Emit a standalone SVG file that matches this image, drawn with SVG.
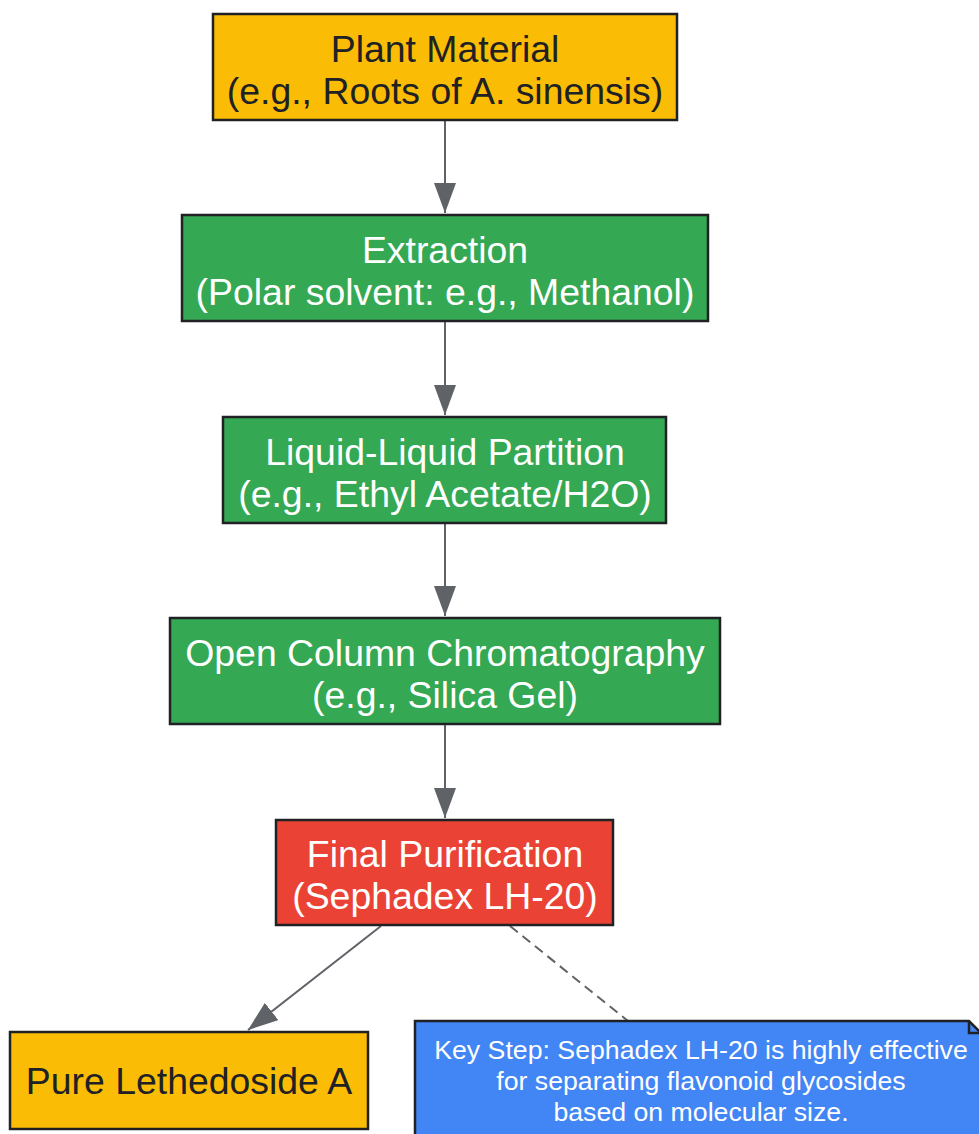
<svg xmlns="http://www.w3.org/2000/svg" width="979" height="1134" viewBox="0 0 979 1134">
<defs>
<marker id="ah" markerWidth="30" markerHeight="22" refX="30" refY="11" orient="auto" markerUnits="userSpaceOnUse">
<path d="M0,0 L30,11 L0,22 Z" fill="#5F6368"/>
</marker>
<style>
.box{stroke:#202124;stroke-width:2.5}
.y{fill:#FBBC05}
.g{fill:#34A853}
.r{fill:#EA4335}
.b{fill:#4285F4}
.t{font-family:"Liberation Sans",Arial,sans-serif;font-size:37.4px;text-anchor:middle}
.dk{fill:#202124}
.wt{fill:#FFFFFF}
.nt{font-family:"Liberation Sans",Arial,sans-serif;font-size:26.7px;text-anchor:middle;fill:#FFFFFF}
.e{stroke:#5F6368;stroke-width:2;fill:none}
</style>
</defs>
<rect width="979" height="1134" fill="#FFFFFF"/>
<g id="connectors">
<line class="e" x1="445" y1="120" x2="445" y2="213" marker-end="url(#ah)"/>
<line class="e" x1="445" y1="321" x2="445" y2="415" marker-end="url(#ah)"/>
<line class="e" x1="445" y1="523" x2="445" y2="616" marker-end="url(#ah)"/>
<line class="e" x1="445" y1="724" x2="445" y2="818" marker-end="url(#ah)"/>
<line class="e" x1="381" y1="926" x2="248" y2="1030" marker-end="url(#ah)"/>
<line class="e" x1="510" y1="926" x2="628" y2="1021" stroke-dasharray="10,6"/>
</g>
<g id="plant">
<rect class="box y" x="213" y="14" width="464" height="106"/>
<text class="t dk" x="445" y="62">Plant Material</text>
<text class="t dk" x="445" y="104">(e.g., Roots of A. sinensis)</text>
</g>
<g id="extraction">
<rect class="box g" x="182" y="215" width="526" height="106"/>
<text class="t wt" x="445" y="263">Extraction</text>
<text class="t wt" x="445" y="305">(Polar solvent: e.g., Methanol)</text>
</g>
<g id="partition">
<rect class="box g" x="223" y="417" width="443" height="106"/>
<text class="t wt" x="445" y="465">Liquid-Liquid Partition</text>
<text class="t wt" x="445" y="507">(e.g., Ethyl Acetate/H2O)</text>
</g>
<g id="column">
<rect class="box g" x="170" y="618" width="550" height="106"/>
<text class="t wt" x="445" y="666">Open Column Chromatography</text>
<text class="t wt" x="445" y="708">(e.g., Silica Gel)</text>
</g>
<g id="final">
<rect class="box r" x="276" y="820" width="337" height="105"/>
<text class="t wt" x="445" y="867">Final Purification</text>
<text class="t wt" x="445" y="909">(Sephadex LH-20)</text>
</g>
<g id="pure">
<rect class="box y" x="10" y="1032" width="358" height="97"/>
<text class="t dk" x="189" y="1094">Pure Lethedoside A</text>
</g>
<g id="note">
<path class="box b" d="M415,1021 L969,1021 L981,1033 L981,1150 L415,1150 Z"/>
<path d="M969,1021 L969,1033 L981,1033" fill="none" stroke="#202124" stroke-width="2.5"/>
<text class="nt" x="701" y="1059">Key Step: Sephadex LH-20 is highly effective</text>
<text class="nt" x="701" y="1090">for separating flavonoid glycosides</text>
<text class="nt" x="701" y="1121">based on molecular size.</text>
</g>
</svg>
